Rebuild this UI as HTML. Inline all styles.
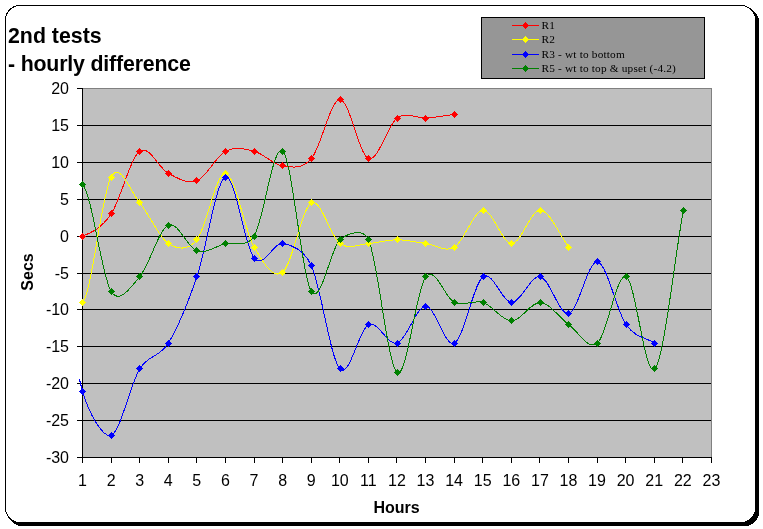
<!DOCTYPE html>
<html lang="en"><head><meta charset="utf-8"><title>2nd tests - hourly difference</title>
<style>html,body{margin:0;padding:0;background:#fff}body{width:763px;height:529px;overflow:hidden}</style>
</head><body>
<svg width="763" height="529" viewBox="0 0 763 529" style="display:block">
<rect width="763" height="529" fill="#fff"/>
<g shape-rendering="crispEdges">
<rect x="8.5" y="8.5" width="750" height="517" rx="13.5" ry="13.5" fill="#000" stroke="#000"/>
<rect x="5.5" y="5.5" width="750" height="517" rx="14.5" ry="14.5" fill="#fff" stroke="#000"/>
<rect x="82.5" y="88.5" width="629" height="369" fill="#c0c0c0" stroke="#808080"/>
<path d="M83,125.5H711" stroke="#000"/>
<path d="M83,162.5H711" stroke="#000"/>
<path d="M83,199.5H711" stroke="#000"/>
<path d="M83,236.5H711" stroke="#000"/>
<path d="M83,273.5H711" stroke="#000"/>
<path d="M83,309.5H711" stroke="#000"/>
<path d="M83,346.5H711" stroke="#000"/>
<path d="M83,383.5H711" stroke="#000"/>
<path d="M83,420.5H711" stroke="#000"/>
<path d="M82.5,88V458" stroke="#000"/>
<path d="M82,457.5H712" stroke="#000"/>
<path d="M77,88.5H82" stroke="#000"/>
<path d="M77,125.5H82" stroke="#000"/>
<path d="M77,162.5H82" stroke="#000"/>
<path d="M77,199.5H82" stroke="#000"/>
<path d="M77,236.5H82" stroke="#000"/>
<path d="M77,273.5H82" stroke="#000"/>
<path d="M77,309.5H82" stroke="#000"/>
<path d="M77,346.5H82" stroke="#000"/>
<path d="M77,383.5H82" stroke="#000"/>
<path d="M77,420.5H82" stroke="#000"/>
<path d="M77,457.5H82" stroke="#000"/>
<path d="M82.5,458V463" stroke="#000"/>
<path d="M111.5,458V463" stroke="#000"/>
<path d="M139.5,458V463" stroke="#000"/>
<path d="M168.5,458V463" stroke="#000"/>
<path d="M196.5,458V463" stroke="#000"/>
<path d="M225.5,458V463" stroke="#000"/>
<path d="M254.5,458V463" stroke="#000"/>
<path d="M282.5,458V463" stroke="#000"/>
<path d="M311.5,458V463" stroke="#000"/>
<path d="M339.5,458V463" stroke="#000"/>
<path d="M368.5,458V463" stroke="#000"/>
<path d="M396.5,458V463" stroke="#000"/>
<path d="M425.5,458V463" stroke="#000"/>
<path d="M454.5,458V463" stroke="#000"/>
<path d="M482.5,458V463" stroke="#000"/>
<path d="M511.5,458V463" stroke="#000"/>
<path d="M539.5,458V463" stroke="#000"/>
<path d="M568.5,458V463" stroke="#000"/>
<path d="M597.5,458V463" stroke="#000"/>
<path d="M625.5,458V463" stroke="#000"/>
<path d="M654.5,458V463" stroke="#000"/>
<path d="M682.5,458V463" stroke="#000"/>
<path d="M711.5,458V463" stroke="#000"/>
</g>
<g font-family="'Liberation Sans',Arial,sans-serif" font-size="16" fill="#000">
<text x="69" y="94.0" text-anchor="end">20</text>
<text x="69" y="130.9" text-anchor="end">15</text>
<text x="69" y="167.8" text-anchor="end">10</text>
<text x="69" y="204.7" text-anchor="end">5</text>
<text x="69" y="241.6" text-anchor="end">0</text>
<text x="69" y="278.5" text-anchor="end">-5</text>
<text x="69" y="315.4" text-anchor="end">-10</text>
<text x="69" y="352.3" text-anchor="end">-15</text>
<text x="69" y="389.2" text-anchor="end">-20</text>
<text x="69" y="426.1" text-anchor="end">-25</text>
<text x="69" y="463.0" text-anchor="end">-30</text>
<text x="82.5" y="485.8" text-anchor="middle">1</text>
<text x="111.1" y="485.8" text-anchor="middle">2</text>
<text x="139.7" y="485.8" text-anchor="middle">3</text>
<text x="168.3" y="485.8" text-anchor="middle">4</text>
<text x="196.8" y="485.8" text-anchor="middle">5</text>
<text x="225.4" y="485.8" text-anchor="middle">6</text>
<text x="254.0" y="485.8" text-anchor="middle">7</text>
<text x="282.6" y="485.8" text-anchor="middle">8</text>
<text x="311.2" y="485.8" text-anchor="middle">9</text>
<text x="339.8" y="485.8" text-anchor="middle">10</text>
<text x="368.4" y="485.8" text-anchor="middle">11</text>
<text x="396.9" y="485.8" text-anchor="middle">12</text>
<text x="425.5" y="485.8" text-anchor="middle">13</text>
<text x="454.1" y="485.8" text-anchor="middle">14</text>
<text x="482.7" y="485.8" text-anchor="middle">15</text>
<text x="511.3" y="485.8" text-anchor="middle">16</text>
<text x="539.9" y="485.8" text-anchor="middle">17</text>
<text x="568.5" y="485.8" text-anchor="middle">18</text>
<text x="597.0" y="485.8" text-anchor="middle">19</text>
<text x="625.6" y="485.8" text-anchor="middle">20</text>
<text x="654.2" y="485.8" text-anchor="middle">21</text>
<text x="682.8" y="485.8" text-anchor="middle">22</text>
<text x="711.4" y="485.8" text-anchor="middle">23</text>
<text x="396.5" y="512.5" text-anchor="middle" font-weight="bold">Hours</text>
<text transform="translate(33,272) rotate(-90)" text-anchor="middle" font-weight="bold">Secs</text>
</g>
<g font-family="'Liberation Sans',Arial,sans-serif" font-size="21.33" font-weight="bold" fill="#000">
<text x="8" y="43">2nd tests</text>
<text x="8" y="70.8" letter-spacing="-0.18">- hourly difference</text>
</g>
<g shape-rendering="crispEdges" fill="none" stroke-width="1">
<path d="M82.50,236.10C92.04,232.41 101.57,228.10 111.11,213.96C120.65,199.81 130.19,157.99 139.72,151.23C149.26,144.47 158.80,168.45 168.34,173.37C177.87,178.29 187.41,184.44 196.95,180.75C206.49,177.06 216.02,156.15 225.56,151.23C235.10,146.31 244.63,148.77 254.17,151.23C263.71,153.69 273.25,164.76 282.78,165.99C292.32,167.22 301.86,169.68 311.40,158.61C320.93,147.54 330.47,99.57 340.01,99.57C349.55,99.57 359.08,155.54 368.62,158.61C378.16,161.69 387.69,124.78 397.23,118.02C406.77,111.25 416.31,118.63 425.84,118.02C435.38,117.41 444.92,115.56 454.46,114.33" stroke="#ff0000"/>
<path d="M82.50,302.52C92.04,292.68 101.57,193.66 111.11,177.06C120.65,160.46 130.19,191.82 139.72,202.89C149.26,213.96 158.80,237.33 168.34,243.48C177.46,249.36 187.83,250.96 196.95,239.79C206.49,228.10 216.02,172.14 225.56,173.37C235.10,174.60 244.63,230.69 254.17,247.17C263.70,263.64 273.25,279.64 282.78,272.26C292.32,264.88 301.86,207.69 311.40,202.89C320.93,198.09 330.47,236.71 340.01,243.48C349.55,250.25 359.08,244.09 368.62,243.48C378.16,242.86 387.69,239.79 397.23,239.79C406.77,239.79 416.31,242.25 425.84,243.48C435.38,244.71 444.92,252.70 454.46,247.17C463.99,241.63 473.53,210.88 483.07,210.27C492.61,209.65 502.14,243.48 511.68,243.48C521.22,243.48 530.75,209.65 540.29,210.27C549.83,210.88 559.37,234.87 568.90,247.17" stroke="#ffff00"/>
<path d="M82.50,391.08C89.78,416.42 103.84,438.18 111.11,435.36C120.65,431.67 130.19,384.31 139.72,368.94C149.26,353.56 158.80,358.49 168.34,343.11C177.87,327.74 187.41,304.37 196.95,276.69C206.49,249.01 216.02,180.13 225.56,177.06C235.10,173.99 244.63,247.17 254.17,258.24C263.71,269.31 273.25,242.25 282.78,243.48C290.29,244.45 303.89,249.16 311.40,265.62C320.93,286.53 330.47,359.10 340.01,368.94C349.55,378.78 359.08,328.96 368.62,324.66C378.16,320.35 387.69,346.19 397.23,343.11C406.77,340.04 416.31,306.21 425.84,306.21C435.38,306.21 444.92,348.03 454.46,343.11C463.99,338.19 473.53,283.45 483.07,276.69C492.61,269.93 502.14,302.52 511.68,302.52C521.22,302.52 530.75,274.84 540.29,276.69C549.83,278.54 559.37,316.05 568.90,313.59C578.44,311.13 587.98,260.09 597.52,261.93C607.05,263.77 616.59,311.13 626.13,324.66C635.67,338.19 645.20,336.96 654.74,343.11" stroke="#0000ff"/>
<path d="M82.50,184.44C92.04,193.66 101.57,276.07 111.11,291.45C119.60,305.13 131.24,286.54 139.72,276.69C149.26,265.62 158.80,229.34 168.34,225.03C177.87,220.72 187.41,247.79 196.95,250.86C206.49,253.94 216.02,245.94 225.56,243.48C233.35,241.47 246.38,248.65 254.17,236.10C263.71,220.72 273.25,142.00 282.78,151.23C292.32,160.45 301.86,276.69 311.40,291.45C320.93,306.21 330.47,248.40 340.01,239.79C345.67,234.68 362.96,226.65 368.62,239.79C378.16,261.93 387.69,366.48 397.23,372.63C406.77,378.78 416.31,288.38 425.84,276.69C435.38,265.00 444.92,298.21 454.46,302.52C463.99,306.82 473.53,299.44 483.07,302.52C492.61,305.59 502.14,320.97 511.68,320.97C521.22,320.97 530.75,301.90 540.29,302.52C549.83,303.13 559.37,317.89 568.90,324.66C578.44,331.42 587.98,351.11 597.52,343.11C607.05,335.12 616.59,272.38 626.13,276.69C635.67,281.00 645.20,380.01 654.74,368.94C664.28,357.87 673.81,263.16 683.35,210.27" stroke="#008000"/>
<path d="M79.5,379.5L80.5,383.5L81.5,387.5L82.5,391.5" stroke="#0000ff"/>
</g>
<g shape-rendering="crispEdges">
<path d="M82,233h1v1h-1zM81,234h3v1h-3zM80,235h5v1h-5zM79,236h7v1h-7zM80,237h5v1h-5zM81,238h3v1h-3zM82,239h1v1h-1z" fill="#ff0000"/>
<path d="M111,210h1v1h-1zM110,211h3v1h-3zM109,212h5v1h-5zM108,213h7v1h-7zM109,214h5v1h-5zM110,215h3v1h-3zM111,216h1v1h-1z" fill="#ff0000"/>
<path d="M139,148h1v1h-1zM138,149h3v1h-3zM137,150h5v1h-5zM136,151h7v1h-7zM137,152h5v1h-5zM138,153h3v1h-3zM139,154h1v1h-1z" fill="#ff0000"/>
<path d="M168,170h1v1h-1zM167,171h3v1h-3zM166,172h5v1h-5zM165,173h7v1h-7zM166,174h5v1h-5zM167,175h3v1h-3zM168,176h1v1h-1z" fill="#ff0000"/>
<path d="M196,177h1v1h-1zM195,178h3v1h-3zM194,179h5v1h-5zM193,180h7v1h-7zM194,181h5v1h-5zM195,182h3v1h-3zM196,183h1v1h-1z" fill="#ff0000"/>
<path d="M225,148h1v1h-1zM224,149h3v1h-3zM223,150h5v1h-5zM222,151h7v1h-7zM223,152h5v1h-5zM224,153h3v1h-3zM225,154h1v1h-1z" fill="#ff0000"/>
<path d="M254,148h1v1h-1zM253,149h3v1h-3zM252,150h5v1h-5zM251,151h7v1h-7zM252,152h5v1h-5zM253,153h3v1h-3zM254,154h1v1h-1z" fill="#ff0000"/>
<path d="M282,162h1v1h-1zM281,163h3v1h-3zM280,164h5v1h-5zM279,165h7v1h-7zM280,166h5v1h-5zM281,167h3v1h-3zM282,168h1v1h-1z" fill="#ff0000"/>
<path d="M311,155h1v1h-1zM310,156h3v1h-3zM309,157h5v1h-5zM308,158h7v1h-7zM309,159h5v1h-5zM310,160h3v1h-3zM311,161h1v1h-1z" fill="#ff0000"/>
<path d="M340,96h1v1h-1zM339,97h3v1h-3zM338,98h5v1h-5zM337,99h7v1h-7zM338,100h5v1h-5zM339,101h3v1h-3zM340,102h1v1h-1z" fill="#ff0000"/>
<path d="M368,155h1v1h-1zM367,156h3v1h-3zM366,157h5v1h-5zM365,158h7v1h-7zM366,159h5v1h-5zM367,160h3v1h-3zM368,161h1v1h-1z" fill="#ff0000"/>
<path d="M397,115h1v1h-1zM396,116h3v1h-3zM395,117h5v1h-5zM394,118h7v1h-7zM395,119h5v1h-5zM396,120h3v1h-3zM397,121h1v1h-1z" fill="#ff0000"/>
<path d="M425,115h1v1h-1zM424,116h3v1h-3zM423,117h5v1h-5zM422,118h7v1h-7zM423,119h5v1h-5zM424,120h3v1h-3zM425,121h1v1h-1z" fill="#ff0000"/>
<path d="M454,111h1v1h-1zM453,112h3v1h-3zM452,113h5v1h-5zM451,114h7v1h-7zM452,115h5v1h-5zM453,116h3v1h-3zM454,117h1v1h-1z" fill="#ff0000"/>
<path d="M82,299h1v1h-1zM81,300h3v1h-3zM80,301h5v1h-5zM79,302h7v1h-7zM80,303h5v1h-5zM81,304h3v1h-3zM82,305h1v1h-1z" fill="#ffff00"/>
<path d="M111,174h1v1h-1zM110,175h3v1h-3zM109,176h5v1h-5zM108,177h7v1h-7zM109,178h5v1h-5zM110,179h3v1h-3zM111,180h1v1h-1z" fill="#ffff00"/>
<path d="M139,199h1v1h-1zM138,200h3v1h-3zM137,201h5v1h-5zM136,202h7v1h-7zM137,203h5v1h-5zM138,204h3v1h-3zM139,205h1v1h-1z" fill="#ffff00"/>
<path d="M168,240h1v1h-1zM167,241h3v1h-3zM166,242h5v1h-5zM165,243h7v1h-7zM166,244h5v1h-5zM167,245h3v1h-3zM168,246h1v1h-1z" fill="#ffff00"/>
<path d="M196,236h1v1h-1zM195,237h3v1h-3zM194,238h5v1h-5zM193,239h7v1h-7zM194,240h5v1h-5zM195,241h3v1h-3zM196,242h1v1h-1z" fill="#ffff00"/>
<path d="M225,170h1v1h-1zM224,171h3v1h-3zM223,172h5v1h-5zM222,173h7v1h-7zM223,174h5v1h-5zM224,175h3v1h-3zM225,176h1v1h-1z" fill="#ffff00"/>
<path d="M254,244h1v1h-1zM253,245h3v1h-3zM252,246h5v1h-5zM251,247h7v1h-7zM252,248h5v1h-5zM253,249h3v1h-3zM254,250h1v1h-1z" fill="#ffff00"/>
<path d="M282,269h1v1h-1zM281,270h3v1h-3zM280,271h5v1h-5zM279,272h7v1h-7zM280,273h5v1h-5zM281,274h3v1h-3zM282,275h1v1h-1z" fill="#ffff00"/>
<path d="M311,199h1v1h-1zM310,200h3v1h-3zM309,201h5v1h-5zM308,202h7v1h-7zM309,203h5v1h-5zM310,204h3v1h-3zM311,205h1v1h-1z" fill="#ffff00"/>
<path d="M340,240h1v1h-1zM339,241h3v1h-3zM338,242h5v1h-5zM337,243h7v1h-7zM338,244h5v1h-5zM339,245h3v1h-3zM340,246h1v1h-1z" fill="#ffff00"/>
<path d="M368,240h1v1h-1zM367,241h3v1h-3zM366,242h5v1h-5zM365,243h7v1h-7zM366,244h5v1h-5zM367,245h3v1h-3zM368,246h1v1h-1z" fill="#ffff00"/>
<path d="M397,236h1v1h-1zM396,237h3v1h-3zM395,238h5v1h-5zM394,239h7v1h-7zM395,240h5v1h-5zM396,241h3v1h-3zM397,242h1v1h-1z" fill="#ffff00"/>
<path d="M425,240h1v1h-1zM424,241h3v1h-3zM423,242h5v1h-5zM422,243h7v1h-7zM423,244h5v1h-5zM424,245h3v1h-3zM425,246h1v1h-1z" fill="#ffff00"/>
<path d="M454,244h1v1h-1zM453,245h3v1h-3zM452,246h5v1h-5zM451,247h7v1h-7zM452,248h5v1h-5zM453,249h3v1h-3zM454,250h1v1h-1z" fill="#ffff00"/>
<path d="M483,207h1v1h-1zM482,208h3v1h-3zM481,209h5v1h-5zM480,210h7v1h-7zM481,211h5v1h-5zM482,212h3v1h-3zM483,213h1v1h-1z" fill="#ffff00"/>
<path d="M511,240h1v1h-1zM510,241h3v1h-3zM509,242h5v1h-5zM508,243h7v1h-7zM509,244h5v1h-5zM510,245h3v1h-3zM511,246h1v1h-1z" fill="#ffff00"/>
<path d="M540,207h1v1h-1zM539,208h3v1h-3zM538,209h5v1h-5zM537,210h7v1h-7zM538,211h5v1h-5zM539,212h3v1h-3zM540,213h1v1h-1z" fill="#ffff00"/>
<path d="M568,244h1v1h-1zM567,245h3v1h-3zM566,246h5v1h-5zM565,247h7v1h-7zM566,248h5v1h-5zM567,249h3v1h-3zM568,250h1v1h-1z" fill="#ffff00"/>
<path d="M82,388h1v1h-1zM81,389h3v1h-3zM80,390h5v1h-5zM79,391h7v1h-7zM80,392h5v1h-5zM81,393h3v1h-3zM82,394h1v1h-1z" fill="#0000ff"/>
<path d="M111,432h1v1h-1zM110,433h3v1h-3zM109,434h5v1h-5zM108,435h7v1h-7zM109,436h5v1h-5zM110,437h3v1h-3zM111,438h1v1h-1z" fill="#0000ff"/>
<path d="M139,365h1v1h-1zM138,366h3v1h-3zM137,367h5v1h-5zM136,368h7v1h-7zM137,369h5v1h-5zM138,370h3v1h-3zM139,371h1v1h-1z" fill="#0000ff"/>
<path d="M168,340h1v1h-1zM167,341h3v1h-3zM166,342h5v1h-5zM165,343h7v1h-7zM166,344h5v1h-5zM167,345h3v1h-3zM168,346h1v1h-1z" fill="#0000ff"/>
<path d="M196,273h1v1h-1zM195,274h3v1h-3zM194,275h5v1h-5zM193,276h7v1h-7zM194,277h5v1h-5zM195,278h3v1h-3zM196,279h1v1h-1z" fill="#0000ff"/>
<path d="M225,174h1v1h-1zM224,175h3v1h-3zM223,176h5v1h-5zM222,177h7v1h-7zM223,178h5v1h-5zM224,179h3v1h-3zM225,180h1v1h-1z" fill="#0000ff"/>
<path d="M254,255h1v1h-1zM253,256h3v1h-3zM252,257h5v1h-5zM251,258h7v1h-7zM252,259h5v1h-5zM253,260h3v1h-3zM254,261h1v1h-1z" fill="#0000ff"/>
<path d="M282,240h1v1h-1zM281,241h3v1h-3zM280,242h5v1h-5zM279,243h7v1h-7zM280,244h5v1h-5zM281,245h3v1h-3zM282,246h1v1h-1z" fill="#0000ff"/>
<path d="M311,262h1v1h-1zM310,263h3v1h-3zM309,264h5v1h-5zM308,265h7v1h-7zM309,266h5v1h-5zM310,267h3v1h-3zM311,268h1v1h-1z" fill="#0000ff"/>
<path d="M340,365h1v1h-1zM339,366h3v1h-3zM338,367h5v1h-5zM337,368h7v1h-7zM338,369h5v1h-5zM339,370h3v1h-3zM340,371h1v1h-1z" fill="#0000ff"/>
<path d="M368,321h1v1h-1zM367,322h3v1h-3zM366,323h5v1h-5zM365,324h7v1h-7zM366,325h5v1h-5zM367,326h3v1h-3zM368,327h1v1h-1z" fill="#0000ff"/>
<path d="M397,340h1v1h-1zM396,341h3v1h-3zM395,342h5v1h-5zM394,343h7v1h-7zM395,344h5v1h-5zM396,345h3v1h-3zM397,346h1v1h-1z" fill="#0000ff"/>
<path d="M425,303h1v1h-1zM424,304h3v1h-3zM423,305h5v1h-5zM422,306h7v1h-7zM423,307h5v1h-5zM424,308h3v1h-3zM425,309h1v1h-1z" fill="#0000ff"/>
<path d="M454,340h1v1h-1zM453,341h3v1h-3zM452,342h5v1h-5zM451,343h7v1h-7zM452,344h5v1h-5zM453,345h3v1h-3zM454,346h1v1h-1z" fill="#0000ff"/>
<path d="M483,273h1v1h-1zM482,274h3v1h-3zM481,275h5v1h-5zM480,276h7v1h-7zM481,277h5v1h-5zM482,278h3v1h-3zM483,279h1v1h-1z" fill="#0000ff"/>
<path d="M511,299h1v1h-1zM510,300h3v1h-3zM509,301h5v1h-5zM508,302h7v1h-7zM509,303h5v1h-5zM510,304h3v1h-3zM511,305h1v1h-1z" fill="#0000ff"/>
<path d="M540,273h1v1h-1zM539,274h3v1h-3zM538,275h5v1h-5zM537,276h7v1h-7zM538,277h5v1h-5zM539,278h3v1h-3zM540,279h1v1h-1z" fill="#0000ff"/>
<path d="M568,310h1v1h-1zM567,311h3v1h-3zM566,312h5v1h-5zM565,313h7v1h-7zM566,314h5v1h-5zM567,315h3v1h-3zM568,316h1v1h-1z" fill="#0000ff"/>
<path d="M597,258h1v1h-1zM596,259h3v1h-3zM595,260h5v1h-5zM594,261h7v1h-7zM595,262h5v1h-5zM596,263h3v1h-3zM597,264h1v1h-1z" fill="#0000ff"/>
<path d="M626,321h1v1h-1zM625,322h3v1h-3zM624,323h5v1h-5zM623,324h7v1h-7zM624,325h5v1h-5zM625,326h3v1h-3zM626,327h1v1h-1z" fill="#0000ff"/>
<path d="M654,340h1v1h-1zM653,341h3v1h-3zM652,342h5v1h-5zM651,343h7v1h-7zM652,344h5v1h-5zM653,345h3v1h-3zM654,346h1v1h-1z" fill="#0000ff"/>
<path d="M82,181h1v1h-1zM81,182h3v1h-3zM80,183h5v1h-5zM79,184h7v1h-7zM80,185h5v1h-5zM81,186h3v1h-3zM82,187h1v1h-1z" fill="#008000"/>
<path d="M111,288h1v1h-1zM110,289h3v1h-3zM109,290h5v1h-5zM108,291h7v1h-7zM109,292h5v1h-5zM110,293h3v1h-3zM111,294h1v1h-1z" fill="#008000"/>
<path d="M139,273h1v1h-1zM138,274h3v1h-3zM137,275h5v1h-5zM136,276h7v1h-7zM137,277h5v1h-5zM138,278h3v1h-3zM139,279h1v1h-1z" fill="#008000"/>
<path d="M168,222h1v1h-1zM167,223h3v1h-3zM166,224h5v1h-5zM165,225h7v1h-7zM166,226h5v1h-5zM167,227h3v1h-3zM168,228h1v1h-1z" fill="#008000"/>
<path d="M196,247h1v1h-1zM195,248h3v1h-3zM194,249h5v1h-5zM193,250h7v1h-7zM194,251h5v1h-5zM195,252h3v1h-3zM196,253h1v1h-1z" fill="#008000"/>
<path d="M225,240h1v1h-1zM224,241h3v1h-3zM223,242h5v1h-5zM222,243h7v1h-7zM223,244h5v1h-5zM224,245h3v1h-3zM225,246h1v1h-1z" fill="#008000"/>
<path d="M254,233h1v1h-1zM253,234h3v1h-3zM252,235h5v1h-5zM251,236h7v1h-7zM252,237h5v1h-5zM253,238h3v1h-3zM254,239h1v1h-1z" fill="#008000"/>
<path d="M282,148h1v1h-1zM281,149h3v1h-3zM280,150h5v1h-5zM279,151h7v1h-7zM280,152h5v1h-5zM281,153h3v1h-3zM282,154h1v1h-1z" fill="#008000"/>
<path d="M311,288h1v1h-1zM310,289h3v1h-3zM309,290h5v1h-5zM308,291h7v1h-7zM309,292h5v1h-5zM310,293h3v1h-3zM311,294h1v1h-1z" fill="#008000"/>
<path d="M340,236h1v1h-1zM339,237h3v1h-3zM338,238h5v1h-5zM337,239h7v1h-7zM338,240h5v1h-5zM339,241h3v1h-3zM340,242h1v1h-1z" fill="#008000"/>
<path d="M368,236h1v1h-1zM367,237h3v1h-3zM366,238h5v1h-5zM365,239h7v1h-7zM366,240h5v1h-5zM367,241h3v1h-3zM368,242h1v1h-1z" fill="#008000"/>
<path d="M397,369h1v1h-1zM396,370h3v1h-3zM395,371h5v1h-5zM394,372h7v1h-7zM395,373h5v1h-5zM396,374h3v1h-3zM397,375h1v1h-1z" fill="#008000"/>
<path d="M425,273h1v1h-1zM424,274h3v1h-3zM423,275h5v1h-5zM422,276h7v1h-7zM423,277h5v1h-5zM424,278h3v1h-3zM425,279h1v1h-1z" fill="#008000"/>
<path d="M454,299h1v1h-1zM453,300h3v1h-3zM452,301h5v1h-5zM451,302h7v1h-7zM452,303h5v1h-5zM453,304h3v1h-3zM454,305h1v1h-1z" fill="#008000"/>
<path d="M483,299h1v1h-1zM482,300h3v1h-3zM481,301h5v1h-5zM480,302h7v1h-7zM481,303h5v1h-5zM482,304h3v1h-3zM483,305h1v1h-1z" fill="#008000"/>
<path d="M511,317h1v1h-1zM510,318h3v1h-3zM509,319h5v1h-5zM508,320h7v1h-7zM509,321h5v1h-5zM510,322h3v1h-3zM511,323h1v1h-1z" fill="#008000"/>
<path d="M540,299h1v1h-1zM539,300h3v1h-3zM538,301h5v1h-5zM537,302h7v1h-7zM538,303h5v1h-5zM539,304h3v1h-3zM540,305h1v1h-1z" fill="#008000"/>
<path d="M568,321h1v1h-1zM567,322h3v1h-3zM566,323h5v1h-5zM565,324h7v1h-7zM566,325h5v1h-5zM567,326h3v1h-3zM568,327h1v1h-1z" fill="#008000"/>
<path d="M597,340h1v1h-1zM596,341h3v1h-3zM595,342h5v1h-5zM594,343h7v1h-7zM595,344h5v1h-5zM596,345h3v1h-3zM597,346h1v1h-1z" fill="#008000"/>
<path d="M626,273h1v1h-1zM625,274h3v1h-3zM624,275h5v1h-5zM623,276h7v1h-7zM624,277h5v1h-5zM625,278h3v1h-3zM626,279h1v1h-1z" fill="#008000"/>
<path d="M654,365h1v1h-1zM653,366h3v1h-3zM652,367h5v1h-5zM651,368h7v1h-7zM652,369h5v1h-5zM653,370h3v1h-3zM654,371h1v1h-1z" fill="#008000"/>
<path d="M683,207h1v1h-1zM682,208h3v1h-3zM681,209h5v1h-5zM680,210h7v1h-7zM681,211h5v1h-5zM682,212h3v1h-3zM683,213h1v1h-1z" fill="#008000"/>
</g>
<g shape-rendering="crispEdges">
<rect x="481.5" y="17.5" width="223" height="61" fill="#969696" stroke="#000"/>
<path d="M512,25.5H539" stroke="#ff0000"/>
<path d="M525,22h1v1h-1zM524,23h3v1h-3zM523,24h5v1h-5zM522,25h7v1h-7zM523,26h5v1h-5zM524,27h3v1h-3zM525,28h1v1h-1z" fill="#ff0000"/>
<path d="M512,39.5H539" stroke="#ffff00"/>
<path d="M525,36h1v1h-1zM524,37h3v1h-3zM523,38h5v1h-5zM522,39h7v1h-7zM523,40h5v1h-5zM524,41h3v1h-3zM525,42h1v1h-1z" fill="#ffff00"/>
<path d="M512,54.5H539" stroke="#0000ff"/>
<path d="M525,51h1v1h-1zM524,52h3v1h-3zM523,53h5v1h-5zM522,54h7v1h-7zM523,55h5v1h-5zM524,56h3v1h-3zM525,57h1v1h-1z" fill="#0000ff"/>
<path d="M512,68.5H539" stroke="#008000"/>
<path d="M525,65h1v1h-1zM524,66h3v1h-3zM523,67h5v1h-5zM522,68h7v1h-7zM523,69h5v1h-5zM524,70h3v1h-3zM525,71h1v1h-1z" fill="#008000"/>
</g>
<g font-family="'Liberation Serif','Times New Roman',serif" font-size="11.3" letter-spacing="0.18" fill="#000">
<text x="541.5" y="28.7">R1</text>
<text x="541.5" y="42.7">R2</text>
<text x="541.5" y="57.7">R3 - wt to bottom</text>
<text x="541.5" y="71.7">R5 - wt to top &amp; upset (-4.2)</text>
</g>
</svg>
</body></html>
